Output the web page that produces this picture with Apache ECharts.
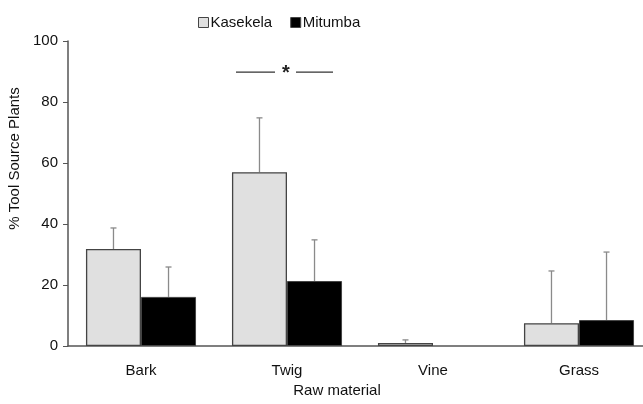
<!DOCTYPE html>
<html>
<head>
<meta charset="utf-8">
<script src="https://cdn.jsdelivr.net/npm/echarts@6/dist/echarts.min.js"></script>
<style>
  html, body { margin: 0; padding: 0; background: #fff; }
  #chart { width: 643px; height: 404px; }
</style>
</head>
<body>
<div id="chart"></div>
<script>
  // raw material categories
  var categories = ['Bark', 'Twig', 'Vine', 'Grass'];
  // mean % of tool source plants
  var kasekela = [31.8, 57.0, 1.0, 7.5];
  var mitumba = [16.1, 21.3, 0, 8.5];
  // upper end of error bars
  var kasekelaErr = [38.7, 74.8, 2.0, 24.6];
  var mitumbaErr = [25.9, 34.8, 0, 30.8];
  // significance mark over Twig
  var sigCategory = 1;
  var sigLevel = 89.8;

  var font = '"Liberation Sans", Arial, sans-serif';
  var barPct = 0.377;
  var chart = echarts.init(document.getElementById('chart'));

  // error bar drawn from top of bar up to err value
  function errBar(offsetSign) {
    return function (params, api) {
      var cat = api.value(0);
      var mean = api.value(1);
      var hi = api.value(2);
      if (hi <= mean) return null;
      var size = api.size([1, 0]);
      var bw = size[0] * barPct;
      var x = api.coord([cat, 0])[0] + offsetSign * bw / 2;
      var p0 = api.coord([cat, mean]);
      var p1 = api.coord([cat, hi]);
      var style = { stroke: '#8a8a8a', lineWidth: 1.3 };
      return {
        type: 'group',
        children: [
          { type: 'line', shape: { x1: x, y1: p0[1], x2: x, y2: p1[1] }, style: style },
          { type: 'line', shape: { x1: x - 3, y1: p1[1], x2: x + 3, y2: p1[1] }, style: style }
        ]
      };
    };
  }

  // zero-height bars get no outline
  function barData(vals) {
    return vals.map(function (v) {
      return v === 0 ? { value: v, itemStyle: { borderWidth: 0 } } : v;
    });
  }

  chart.setOption({
    animation: false,
    textStyle: { fontFamily: font },
    legend: {
      top: 10,
      left: 193,
      itemGap: 18,
      itemWidth: 10,
      itemHeight: 10,
      itemStyle: { borderColor: '#444', borderWidth: 1 },
      textStyle: { fontSize: 15, color: '#111', fontFamily: font, padding: [0, 0, 0, -3] },
      data: [
        { name: 'Kasekela', icon: 'rect' },
        { name: 'Mitumba', icon: 'rect' }
      ]
    },
    grid: { left: 68, right: -9, top: 41, bottom: 58, outerBoundsMode: 'none' },
    xAxis: {
      type: 'category',
      data: categories,
      name: 'Raw material',
      nameLocation: 'middle',
      nameGap: 33,
      nameTextStyle: { fontSize: 15, color: '#111', fontFamily: font, padding: [0, 46, 0, 0] },
      axisLine: { lineStyle: { color: '#555', width: 1.5 } },
      axisTick: { show: false },
      axisLabel: { fontSize: 15, color: '#111', margin: 17, fontFamily: font }
    },
    yAxis: {
      type: 'value',
      min: 0,
      max: 100,
      interval: 20,
      name: '% Tool Source Plants',
      nameLocation: 'middle',
      nameGap: 43,
      nameTextStyle: { fontSize: 15, color: '#111', fontFamily: font, padding: [0, 0, 0, 70] },
      axisLine: { show: true, lineStyle: { color: '#555', width: 1.5 } },
      axisTick: { show: true, length: 5, lineStyle: { color: '#555' } },
      splitLine: { show: false },
      axisLabel: { fontSize: 15, color: '#111', margin: 10, fontFamily: font }
    },
    series: [
      {
        name: 'Kasekela',
        type: 'bar',
        barWidth: (barPct * 100) + '%',
        barGap: '0%',
        itemStyle: { color: '#e0e0e0', borderColor: '#444', borderWidth: 1.3 },
        data: barData(kasekela)
      },
      {
        name: 'Mitumba',
        type: 'bar',
        barWidth: (barPct * 100) + '%',
        barGap: '0%',
        itemStyle: { color: '#000', borderColor: '#444', borderWidth: 1 },
        data: barData(mitumba)
      },
      {
        type: 'custom',
        renderItem: errBar(-1),
        z: 1,
        data: categories.map(function (c, i) { return [i, kasekela[i], kasekelaErr[i]]; })
      },
      {
        type: 'custom',
        renderItem: errBar(1),
        z: 1,
        data: categories.map(function (c, i) { return [i, mitumba[i], mitumbaErr[i]]; })
      },
      {
        type: 'custom',
        renderItem: function (params, api) {
          var p = api.coord([api.value(0), api.value(1)]);
          var style = { stroke: '#333', lineWidth: 1.3 };
          return {
            type: 'group',
            children: [
              { type: 'line', shape: { x1: p[0] - 51, y1: p[1], x2: p[0] - 12, y2: p[1] }, style: style },
              { type: 'line', shape: { x1: p[0] + 9, y1: p[1], x2: p[0] + 46, y2: p[1] }, style: style },
              { type: 'text', x: p[0] - 1, y: p[1] + 1, style: { text: '*', fontSize: 20, fontWeight: 'bold', fill: '#222', align: 'center', verticalAlign: 'middle', fontFamily: font } }
            ]
          };
        },
        data: [[sigCategory, sigLevel]]
      }
    ]
  });
</script>
</body>
</html>
